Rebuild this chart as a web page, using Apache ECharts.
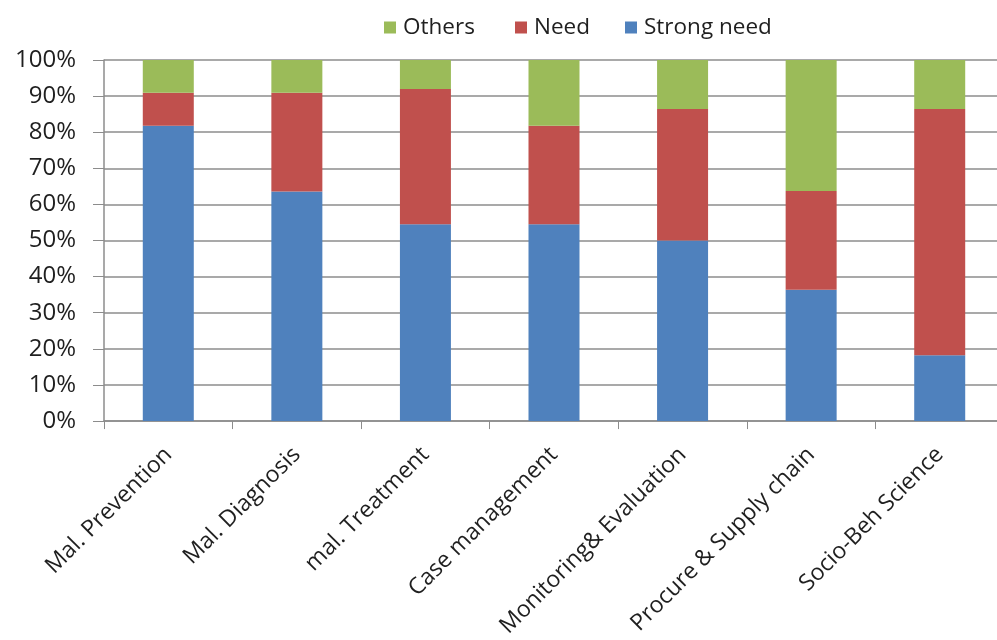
<!DOCTYPE html>
<html>
<head>
<meta charset="utf-8">
<script src="https://cdn.jsdelivr.net/npm/echarts@6/dist/echarts.min.js"></script>
<style>html,body{margin:0;padding:0;background:#fff;overflow:hidden;}#c{width:1004px;height:640px;}</style>
</head>
<body>
<div id="c"></div>
<script>
const categories = ['Mal. Prevention','Mal. Diagnosis','mal. Treatment','Case management','Monitoring& Evaluation','Procure & Supply chain','Socio-Beh Science'];
const strongNeed = [81.8, 63.6, 54.5, 54.5, 50.0, 36.4, 18.2];
const need = [9.1, 27.3, 37.5, 27.3, 36.4, 27.3, 68.2];
const others = [9.1, 9.1, 8.0, 18.2, 13.6, 36.3, 13.6];
const yTicks = [0,10,20,30,40,50,60,70,80,90,100];

const FONT = 'Open Sans';
const TXT = '#1f1f1f';
const chart = echarts.init(document.getElementById('c'), null, {renderer:'canvas'});
const legendBase = {top: 11, icon: 'rect', itemWidth: 12, itemHeight: 12, itemGap: 8,
  textStyle: {fontFamily: FONT, fontSize: 22.5, color: TXT, padding:[0,0,0,2]}};
chart.setOption({
  animation: false,
  backgroundColor: '#fff',
  legend: [
    Object.assign({}, legendBase, {left: 379, data: ['Others']}),
    Object.assign({}, legendBase, {left: 510, data: ['Need']}),
    Object.assign({}, legendBase, {left: 620, data: ['Strong need']})
  ],
  grid: {left: 104, top: 60, right: 0, height: 362, containLabel: false},
  xAxis: {
    type: 'category', data: categories, boundaryGap: true,
    axisLine: {lineStyle: {color: '#8c8c8c', width: 1.5}},
    axisTick: {show: true, length: 8, lineStyle: {color: '#8c8c8c'}},
    axisLabel: {rotate: 45, fontFamily: FONT, fontSize: 23, color: TXT, margin: 30, interval: 0}
  },
  yAxis: {
    type: 'value', min: 0, max: 100, interval: 10,
    axisLine: {show: true, lineStyle: {color: '#8c8c8c', width: 1.5}},
    axisTick: {show: true, length: 11, lineStyle: {color: '#8c8c8c'}},
    splitLine: {lineStyle: {color: '#8c8c8c', width: 1.5}},
    axisLabel: {formatter: '{value}%', fontFamily: FONT, fontSize: 24, color: TXT, margin: 28,
      customValues: yTicks}
  },
  series: [
    {name: 'Strong need', type: 'bar', stack: 's', data: strongNeed, barWidth: 51, itemStyle: {color: '#4F81BD'}},
    {name: 'Need', type: 'bar', stack: 's', data: need, barWidth: 51, itemStyle: {color: '#C0504D'}},
    {name: 'Others', type: 'bar', stack: 's', data: others, barWidth: 51, itemStyle: {color: '#9BBB59'}}
  ]
});
</script>
</body>
</html>
